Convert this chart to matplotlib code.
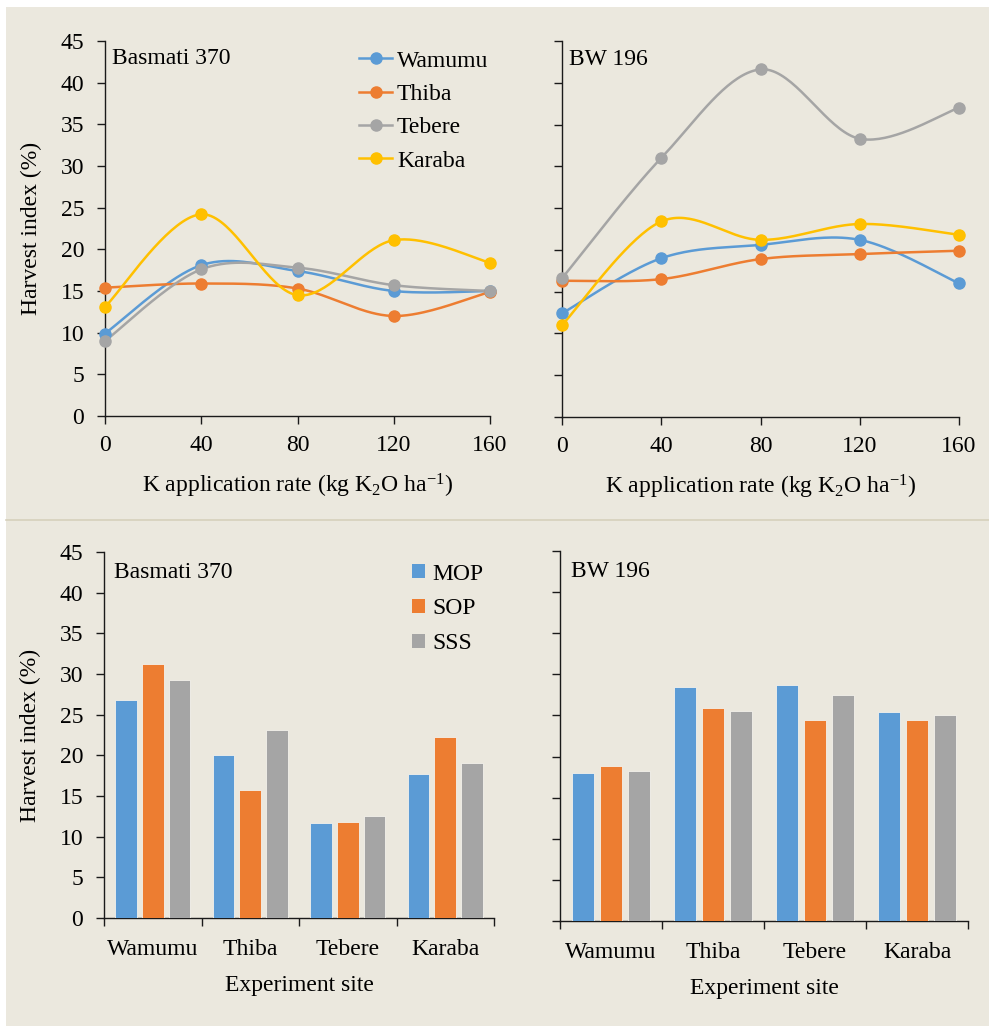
import numpy as np
import matplotlib
matplotlib.use("Agg")
import matplotlib.pyplot as plt
from matplotlib.patches import Rectangle, Patch
from matplotlib.lines import Line2D

# ---------------- data ----------------
rates = [0, 40, 80, 120, 160]
sites = ["Wamumu", "Thiba", "Tebere", "Karaba"]
sources = ["MOP", "SOP", "SSS"]

# Line charts: harvest index (%) vs K rate
basmati_wamumu = [9.9, 18.1, 17.4, 15.0, 15.0]
basmati_thiba = [15.4, 15.9, 15.3, 12.0, 14.9]
basmati_tebere = [9.0, 17.6, 17.8, 15.7, 15.0]
basmati_karaba = [13.1, 24.2, 14.5, 21.1, 18.4]

bw_wamumu = [12.4, 19.0, 20.6, 21.2, 16.0]
bw_thiba = [16.3, 16.5, 18.9, 19.5, 19.9]
bw_tebere = [16.6, 31.0, 41.6, 33.3, 37.0]
bw_karaba = [11.0, 23.4, 21.2, 23.1, 21.8]

# Bar charts: harvest index (%) by site and K source
basmati_mop = [26.8, 20.1, 11.7, 17.7]
basmati_sop = [31.2, 15.7, 11.8, 22.3]
basmati_sss = [29.3, 23.1, 12.5, 19.1]

bw_mop = [18.0, 28.4, 28.7, 25.4]
bw_sop = [18.8, 25.9, 24.5, 24.5]
bw_sss = [18.3, 25.6, 27.5, 25.1]

# ---------------- style ----------------
plt.rcParams['font.family'] = ['Liberation Serif', 'DejaVu Serif']
plt.rcParams['mathtext.fontset'] = 'custom'
plt.rcParams['mathtext.rm'] = 'Liberation Serif'
plt.rcParams['mathtext.it'] = 'Liberation Serif:italic'
plt.rcParams['mathtext.bf'] = 'Liberation Serif:bold'

FS = 17
BG = '#EBE8DE'
C_BLUE = '#5B9BD5'
C_ORANGE = '#ED7D31'
C_GRAY = '#A5A5A5'
C_YELLOW = '#FFC000'
series_colors = [C_BLUE, C_ORANGE, C_GRAY, C_YELLOW]
bar_colors = [C_BLUE, C_ORANGE, C_GRAY]

W, H = 989, 1026
fig = plt.figure(figsize=(W / 100, H / 100), dpi=100)
fig.patch.set_facecolor('white')
fig.patches.append(Rectangle((6 / W, 0), 1, (H - 7) / H, transform=fig.transFigure,
                             facecolor=BG, edgecolor='none', zorder=-10))
fig.add_artist(Line2D([6 / W, 1], [(H - 520) / H] * 2, transform=fig.transFigure,
                      color='#D6D0BC', lw=1.2))


def px_axes(left, right, top, bottom):
    return fig.add_axes([left / W, (H - bottom) / H, (right - left) / W, (bottom - top) / H])


def style_axes(ax, show_ylabels):
    ax.set_facecolor('none')
    for s in ['top', 'right']:
        ax.spines[s].set_visible(False)
    for s in ['left', 'bottom']:
        ax.spines[s].set_color('#1a1a1a')
        ax.spines[s].set_linewidth(1.0)
    ax.set_ylim(0, 45)
    ax.set_yticks(np.arange(0, 46, 5))
    ax.tick_params(axis='both', which='major', direction='out', length=6, width=1.0,
                   color='#1a1a1a', labelsize=FS, labelcolor='black')
    ax.tick_params(axis='y', pad=9)
    if not show_ylabels:
        ax.tick_params(axis='y', labelleft=False)


def smooth(x, y, n=40):
    P = np.column_stack([x, y]).astype(float)
    m = len(P)
    out = [P[0:1]]
    t = np.linspace(0, 1, n)[1:, None]
    for i in range(m - 1):
        p0 = P[i - 1] if i > 0 else P[i]
        p1, p2 = P[i], P[i + 1]
        p3 = P[i + 2] if i + 2 < m else P[i + 1]
        c1 = p1 + (p2 - p0) / 6.0
        c2 = p2 - (p3 - p1) / 6.0
        seg = ((1 - t) ** 3) * p1 + 3 * ((1 - t) ** 2) * t * c1 + 3 * (1 - t) * t ** 2 * c2 + t ** 3 * p2
        out.append(seg)
    pts = np.vstack(out)
    return pts[:, 0], pts[:, 1]


def line_panel(ax, data, title, show_ylabels, legend=False):
    style_axes(ax, show_ylabels)
    ax.set_xlim(0, 160)
    ax.set_xticks(rates)
    ax.tick_params(axis='x', pad=8)
    handles = []
    for vals, col, name in zip(data, series_colors, sites):
        sx, sy = smooth(rates, vals)
        ax.plot(sx, sy, color=col, lw=1.8, clip_on=False, zorder=3)
        ax.plot(rates, vals, 'o', color=col, ms=8, clip_on=False, zorder=4)
        handles.append(Line2D([], [], color=col, lw=1.8, marker='o', ms=8))
    ax.set_xlabel(r'K application rate (kg K$_2$O ha$^{-1}$)', fontsize=FS, labelpad=11)
    if show_ylabels:
        ax.set_ylabel('Harvest index (%)', fontsize=FS, labelpad=13)
    ax.text(0.018, 0.952, title, transform=ax.transAxes, fontsize=FS, va='center', ha='left')
    if legend:
        ax.legend(handles, sites, loc='upper left', bbox_to_anchor=(0.66, 0.976),
                  frameon=False, fontsize=FS, handlelength=1.4, handletextpad=0.2,
                  labelspacing=0.5, borderpad=0, borderaxespad=0)


def bar_panel(ax, data, title, show_ylabels, legend=False):
    style_axes(ax, show_ylabels)
    ax.set_xlim(-0.5, 3.5)
    xs = np.arange(len(sites))
    offs = [-0.276, 0.0, 0.276]
    for vals, col, off, name in zip(data, bar_colors, offs, sources):
        ax.bar(xs + off, vals, width=0.222, color=col, edgecolor='#F4F2EC', linewidth=0.6,
               label=name, zorder=3)
    ax.set_xticks(np.arange(-0.5, 3.6, 1.0))
    ax.set_xticklabels([])
    ax.set_xticks(xs, minor=True)
    ax.set_xticklabels(sites, minor=True)
    ax.tick_params(axis='x', which='minor', length=0, pad=15, labelsize=FS)
    ax.set_xlabel('Experiment site', fontsize=FS, labelpad=11)
    if show_ylabels:
        ax.set_ylabel('Harvest index (%)', fontsize=FS, labelpad=13)
    ax.text(0.026, 0.945, title, transform=ax.transAxes, fontsize=FS, va='center', ha='left')
    if legend:
        handles = [Patch(facecolor=c, edgecolor='none') for c in bar_colors]
        ax.legend(handles, sources, loc='upper left', bbox_to_anchor=(0.79, 0.968),
                  frameon=False, fontsize=FS, handlelength=0.55, handleheight=0.55,
                  handletextpad=0.3, labelspacing=0.58, borderpad=0, borderaxespad=0)


ax1 = px_axes(105, 490, 41, 416)
ax2 = px_axes(562, 959, 41, 417)
ax3 = px_axes(104, 494, 552, 918)
ax4 = px_axes(560, 968, 551, 921)

line_panel(ax1, [basmati_wamumu, basmati_thiba, basmati_tebere, basmati_karaba],
           'Basmati 370', True, legend=True)
line_panel(ax2, [bw_wamumu, bw_thiba, bw_tebere, bw_karaba], 'BW 196', False)
bar_panel(ax3, [basmati_mop, basmati_sop, basmati_sss], 'Basmati 370', True, legend=True)
bar_panel(ax4, [bw_mop, bw_sop, bw_sss], 'BW 196', False)

fig.savefig('out.png', dpi=100, facecolor=fig.get_facecolor())
